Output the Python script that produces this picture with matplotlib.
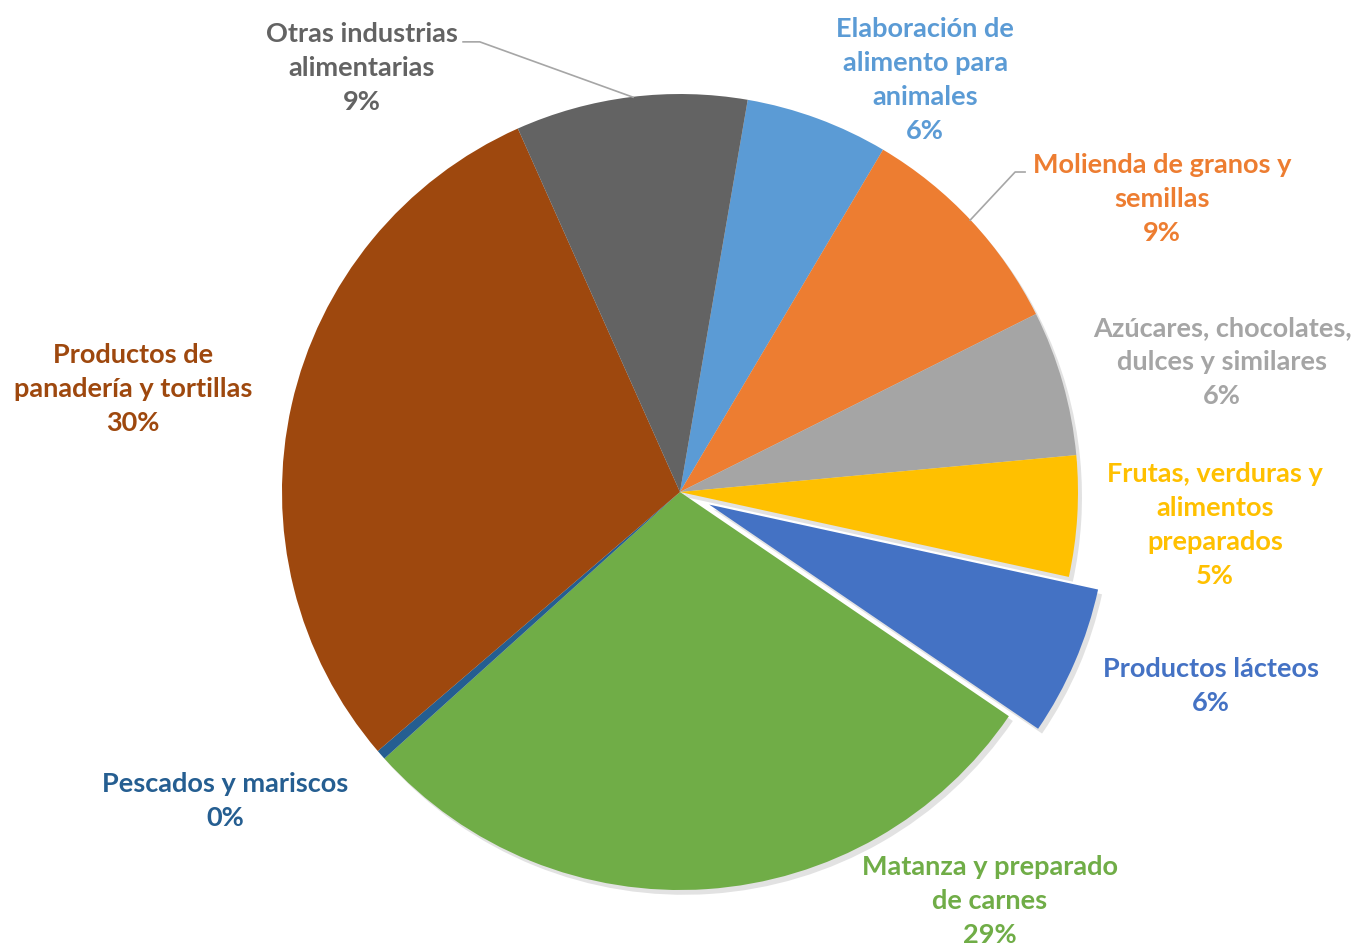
import matplotlib.pyplot as plt

# datos del gráfico (porcentajes por rama)
categorias = ['Elaboración de\nalimento para\nanimales',
              'Molienda de granos y\nsemillas',
              'Azúcares, chocolates,\ndulces y similares',
              'Frutas, verduras y\nalimentos\npreparados',
              'Productos lácteos',
              'Matanza y preparado\nde carnes',
              'Pescados y mariscos',
              'Productos de\npanadería y tortillas',
              'Otras industrias\nalimentarias']
valores = [5.8, 9.1, 5.9, 4.9, 6.1, 28.8, 0.4, 29.6, 9.4]

colores = ['#5B9BD5', '#ED7D31', '#A5A5A5', '#FFC000', '#4472C4',
           '#70AD47', '#255E91', '#9E480E', '#636363']
separar = [0, 0, 0, 0, 0.08, 0, 0, 0, 0]

# posiciones de las etiquetas (en unidades del radio)
pos_etiquetas = [(0.616, 1.035), (1.211, 0.736), (1.362, 0.327),
                 (1.344, -0.083), (1.334, -0.487), (0.779, -1.027),
                 (-1.143, -0.776), (-1.374, 0.259), (-0.799, 1.065)]

plt.rcParams['font.family'] = ['Lato', 'DejaVu Sans']

fig = plt.figure(figsize=(13.55, 9.47), dpi=100)
ax = fig.add_axes([0, 0, 1, 1])

# sombra gris suave
ax.pie(valores, explode=separar, colors=['#e2e2e2'] * len(valores),
       startangle=80.2, counterclock=False, center=(0.010, -0.012),
       wedgeprops=dict(linewidth=0))
wedges, _ = ax.pie(valores, explode=separar, colors=colores,
                   startangle=80.2, counterclock=False,
                   wedgeprops=dict(linewidth=0))

total = sum(valores)
for cat, v, c, (x, y) in zip(categorias, valores, colores, pos_etiquetas):
    ax.text(x, y, f'{cat}\n{v / total * 100:.0f}%', ha='center', va='center',
            color=c, fontsize=19.5, fontweight='bold', linespacing=1.5)

# líneas guía
ax.plot([-0.545, -0.503, -0.118], [1.131, 1.131, 0.992], color='#A6A6A6', lw=1.2)
ax.plot([0.867, 0.842, 0.729], [0.804, 0.804, 0.683], color='#A6A6A6', lw=1.2)

ax.set_xlim(-1.7085, 1.696)
ax.set_ylim(-1.143, 1.236)
ax.set_aspect('equal', adjustable='box')
ax.axis('off')

fig.savefig('out.png', dpi=100)
